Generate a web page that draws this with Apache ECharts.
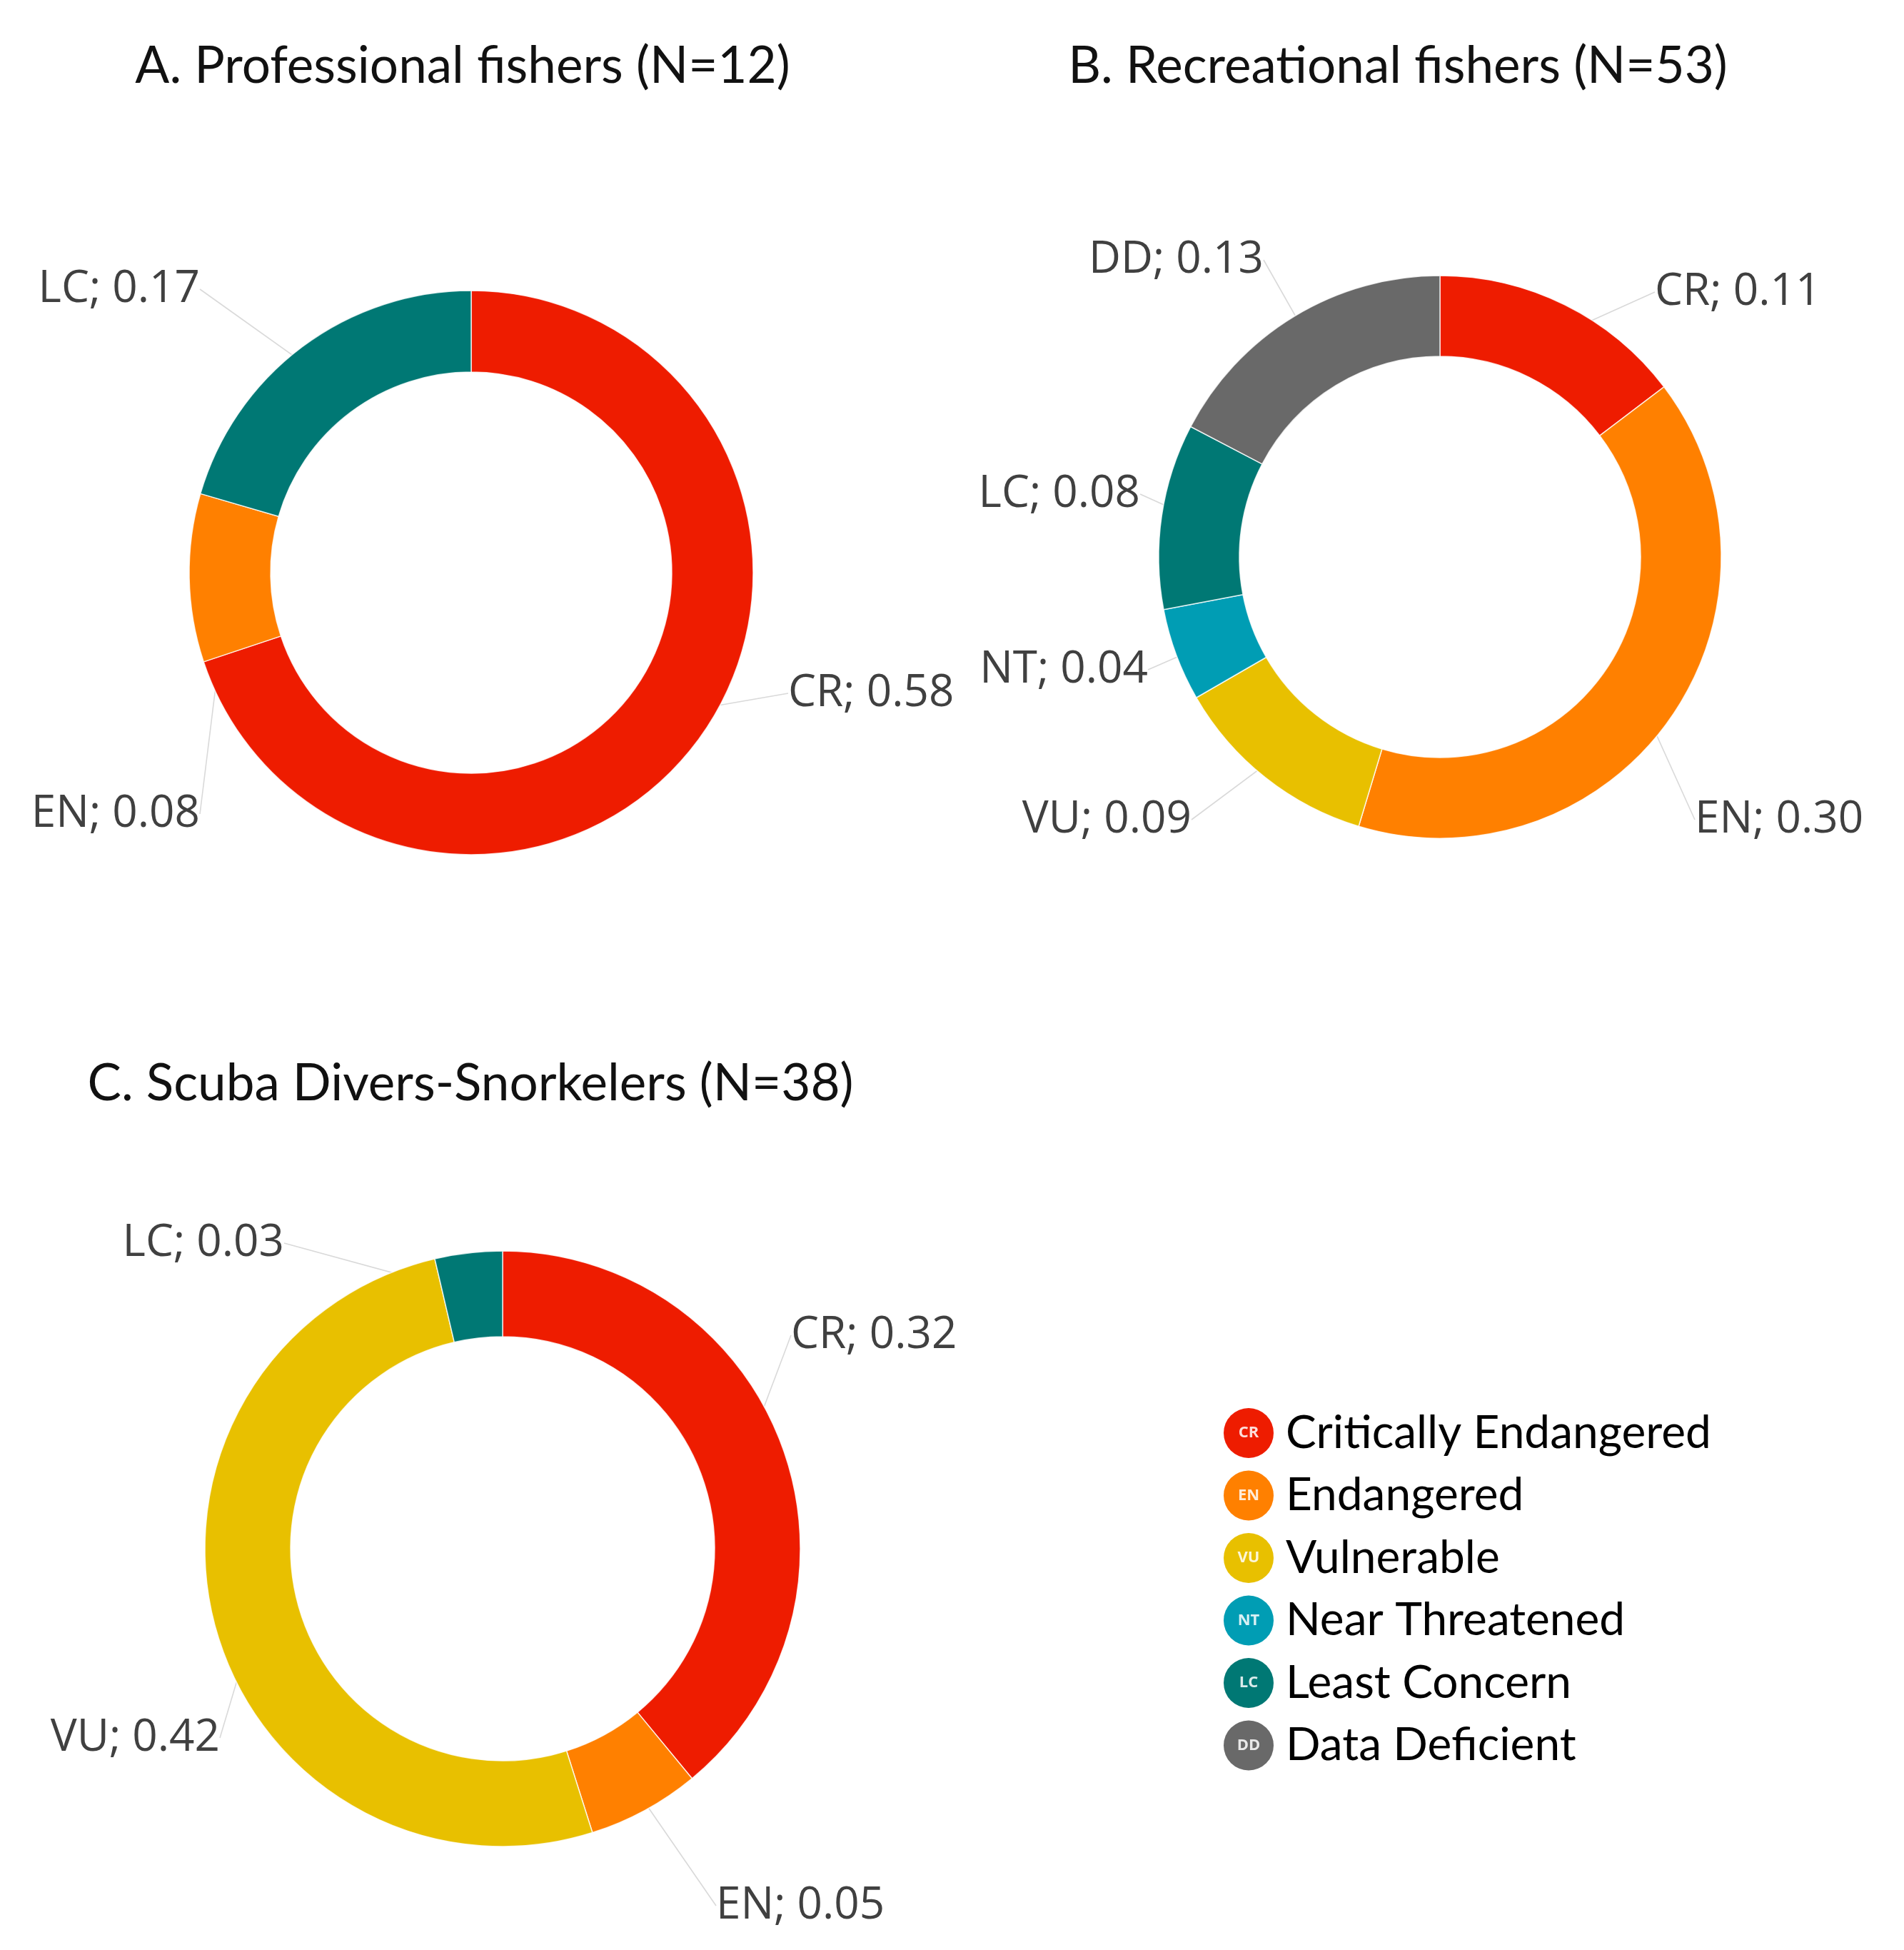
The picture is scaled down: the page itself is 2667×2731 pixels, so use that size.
<!DOCTYPE html>
<html><head><meta charset="utf-8">
<script src="https://cdn.jsdelivr.net/npm/echarts@6/dist/echarts.min.js"></script>
<style>html,body{margin:0;padding:0;background:#fff}#c{width:2667px;height:2731px}</style>
</head><body><div id="c"></div>
<script>
// ---- data ----
const categories = ['CR', 'EN', 'VU', 'NT', 'LC', 'DD'];
const categoryNames = ['Critically Endangered', 'Endangered', 'Vulnerable', 'Near Threatened', 'Least Concern', 'Data Deficient'];
const panelTitles = ['A. Professional fishers (N=12)', 'B. Recreational fishers (N=53)', 'C. Scuba Divers-Snorkelers (N=38)'];
const professionalValues = [0.58, 0.08, null, null, 0.17, null];
const recreationalValues = [0.11, 0.30, 0.09, 0.04, 0.08, 0.13];
const divingValues = [0.32, 0.05, 0.42, null, 0.03, null];

// ---- styles / layout ----
const categoryColors = {CR: '#EE1C00', EN: '#FF8000', VU: '#E8C000', NT: '#009DB4', LC: '#007874', DD: '#696969'};
const panels = [
  {values: professionalValues, center: [660, 802], radius: [281, 395], title: [648, 93],
   labels: {CR: ['left', 1104, 971], EN: ['right', 280, 1140], LC: ['right', 280, 405]}},
  {values: recreationalValues, center: [2017, 780], radius: [281, 394], title: [1958, 93],
   labels: {CR: ['left', 2318, 409], EN: ['left', 2374, 1148], VU: ['right', 1669, 1148],
            NT: ['right', 1608, 938], LC: ['right', 1597, 692], DD: ['right', 1770, 364]}},
  {values: divingValues, center: [704, 2169], radius: [297, 417], title: [659, 1518],
   labels: {CR: ['left', 1108, 1870], EN: ['left', 1003, 2669], VU: ['right', 308, 2434], LC: ['right', 398, 1741]}}
];
const TITLE_SIZE = 71;

const series = [];
const titles = [];
panels.forEach((p, pi) => {
  const data = categories.map((c, i) => ({name: c, value: p.values[i]})).filter(d => d.value != null);
  titles.push({
    text: panelTitles[pi], left: p.title[0], top: p.title[1] - TITLE_SIZE / 2, textAlign: 'center', padding: 0,
    textStyle: {fontFamily: 'Lato', fontSize: TITLE_SIZE, lineHeight: TITLE_SIZE, fontWeight: 'normal', color: '#111'}
  });
  // visible donut
  series.push({
    type: 'pie', center: p.center, radius: p.radius, startAngle: 90, clockwise: true,
    avoidLabelOverlap: false, silent: true, animation: false,
    label: {show: false}, labelLine: {show: false},
    itemStyle: {color: params => categoryColors[params.name], borderColor: 'rgba(255,255,255,0.8)', borderWidth: 1.5},
    emphasis: {disabled: true},
    data: data
  });
  // thin ring at mid-radius carrying the labels and leader lines
  const mid = (p.radius[0] + p.radius[1]) / 2;
  series.push({
    type: 'pie', center: p.center, radius: [mid - 1, mid + 1], startAngle: 90, clockwise: true,
    avoidLabelOverlap: false, silent: true, animation: false,
    itemStyle: {color: 'rgba(0,0,0,0)', borderWidth: 0},
    emphasis: {disabled: true},
    label: {
      show: true, position: 'outside',
      formatter: params => params.name + '; ' + params.value.toFixed(2),
      fontFamily: 'Open Sans', fontSize: 62, color: '#404040'
    },
    labelLine: {show: true, length: 20, length2: 0, lineStyle: {color: '#D9D9D9', width: 1.6}},
    labelLayout: params => {
      const name = data[params.dataIndex].name;
      const l = p.labels[name];
      return {x: l[1], y: l[2], align: l[0], verticalAlign: 'middle'};
    },
    data: data
  });
});

const rich = {
  t: {fontFamily: 'Lato', fontSize: 64, color: '#000', lineHeight: 70, padding: [0, 0, 0, 17], verticalAlign: 'middle'}
};
categories.forEach(c => {
  rich[c] = {
    width: 70, height: 70, lineHeight: 70, borderRadius: 35, backgroundColor: categoryColors[c],
    color: 'rgba(255,255,255,0.85)', fontFamily: 'Open Sans', fontSize: 22, fontWeight: 'bold',
    align: 'center', verticalAlign: 'middle'
  };
});

const chart = echarts.init(document.getElementById('c'), null, {renderer: 'canvas'});
chart.setOption({
  backgroundColor: '#fff',
  animation: false,
  title: titles,
  legend: {
    orient: 'vertical', left: 1708, top: 1972, itemWidth: 0, itemHeight: 70, itemGap: 17.5,
    icon: 'circle', selectedMode: false, padding: 0,
    data: categories,
    formatter: name => '{' + name + '|' + name + '}{t|' + categoryNames[categories.indexOf(name)] + '}',
    textStyle: {rich: rich}
  },
  series: series
});
</script>
</body></html>
